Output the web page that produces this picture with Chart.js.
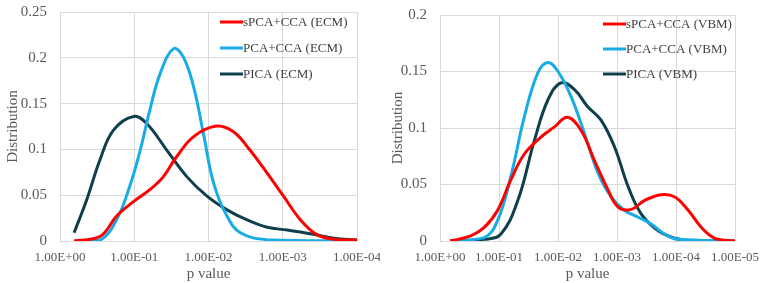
<!DOCTYPE html>
<html>
<head>
<meta charset="utf-8">
<script src="https://cdn.jsdelivr.net/npm/chart.js@4.4.0/dist/chart.umd.min.js"></script>
<style>
  body { margin: 0; background: #fff; }
  .panel { position: absolute; top: 0; width: 380px; height: 283px; }
</style>
</head>
<body>
<div class="panel" style="left:0"><canvas id="chartECM"></canvas></div>
<div class="panel" style="left:385px"><canvas id="chartVBM"></canvas></div>
<script>
// x values are -log10(p), so 1 means p = 1.00E-01
const ecmX_sPCA = [0.19, 0.54, 0.76, 0.99, 1.21, 1.39, 1.57, 1.80, 2.11, 2.34, 2.56, 2.79, 3.01, 3.24, 3.46, 3.69, 4.0];
const ecmY_sPCA = [0, 0.005, 0.027, 0.043, 0.056, 0.07, 0.092, 0.114, 0.1255, 0.119, 0.099, 0.074, 0.049, 0.023, 0.007, 0.002, 0.001];
const ecmX_PCA = [0.19, 0.54, 0.76, 0.94, 1.08, 1.21, 1.35, 1.53, 1.66, 1.80, 1.93, 2.07, 2.25, 2.43, 2.79, 4.0];
const ecmY_PCA = [0, 0.001, 0.023, 0.06, 0.099, 0.143, 0.183, 0.21, 0.201, 0.168, 0.118, 0.063, 0.027, 0.009, 0.0015, 0];
const ecmX_PICA = [0.19, 0.36, 0.54, 0.72, 0.99, 1.17, 1.44, 1.71, 1.98, 2.25, 2.52, 2.79, 3.06, 3.37, 3.69, 4.0];
const ecmY_PICA = [0.009, 0.045, 0.089, 0.121, 0.136, 0.128, 0.099, 0.07, 0.049, 0.034, 0.023, 0.015, 0.012, 0.008, 0.003, 0.001];

const vbmX_sPCA = [0.17, 0.52, 0.75, 0.975, 1.20, 1.43, 1.71, 1.94, 2.16, 2.39, 2.62, 2.85, 3.02, 3.24, 3.47, 3.75, 3.98, 4.21, 4.43, 4.66, 5.0];
const vbmY_sPCA = [0, 0.0045, 0.012, 0.027, 0.054, 0.077, 0.092, 0.101, 0.1095, 0.098, 0.071, 0.045, 0.030, 0.028, 0.036, 0.041, 0.039, 0.027, 0.012, 0.0024, 0];
const vbmX_PCA = [0.17, 0.75, 0.975, 1.20, 1.43, 1.66, 1.83, 2.00, 2.22, 2.45, 2.68, 2.90, 3.13, 3.36, 3.58, 3.81, 4.04, 5.0];
const vbmY_PCA = [0, 0.003, 0.018, 0.057, 0.110, 0.149, 0.158, 0.150, 0.128, 0.095, 0.060, 0.039, 0.027, 0.021, 0.015, 0.006, 0.0015, 0];
const vbmX_PICA = [0.17, 0.75, 1.03, 1.32, 1.60, 1.83, 2.05, 2.28, 2.50, 2.73, 2.96, 3.19, 3.41, 3.70, 3.98, 4.26, 5.0];
const vbmY_PICA = [0, 0.0015, 0.006, 0.036, 0.089, 0.125, 0.140, 0.134, 0.119, 0.107, 0.083, 0.048, 0.024, 0.009, 0.0024, 0, 0];

const ecmTicks = ['1.00E+00', '1.00E-01', '1.00E-02', '1.00E-03', '1.00E-04'];
const vbmTicks = ['1.00E+00', '1.00E-01', '1.00E-02', '1.00E-03', '1.00E-04', '1.00E-05'];

const RED = '#ff0000', BLUE = '#17ace6', DARK = '#0f3f4d';
const FONT = "'Liberation Serif', 'Times New Roman', serif";
const TEXT = '#595959';

function pts(xs, ys) {
  return xs.map((x, i) => ({ x: x, y: ys[i] }));
}

// legend drawn inside the plot like Excel does
const innerLegend = {
  id: 'innerLegend',
  afterDraw(chart, args, opts) {
    const ctx = chart.ctx;
    ctx.save();
    ctx.font = '13px ' + FONT;
    ctx.textBaseline = 'middle';
    chart.data.datasets.forEach((ds, i) => {
      const y = opts.y0 + i * opts.dy;
      ctx.strokeStyle = ds.borderColor;
      ctx.lineWidth = 3;
      ctx.beginPath();
      ctx.moveTo(opts.x, y);
      ctx.lineTo(opts.x + 23, y);
      ctx.stroke();
      ctx.fillStyle = '#404040';
      ctx.fillText(ds.label, opts.x + 23, y + 1);
    });
    ctx.restore();
  }
};

function makeChart(id, sets, ticks, yMax, yLeft, padRight, padTop, legendPos) {
  new Chart(document.getElementById(id), {
    type: 'line',
    data: {
      datasets: sets.map(s => ({
        label: s[0],
        data: s[1],
        borderColor: s[2],
        borderWidth: 3,
        pointRadius: 0,
        tension: 0.4,
        fill: false
      }))
    },
    options: {
      responsive: true,
      maintainAspectRatio: false,
      animation: false,
      layout: { padding: { top: padTop, right: padRight, left: 0, bottom: 0 } },
      plugins: {
        legend: { display: false },
        tooltip: { enabled: false },
        innerLegend: legendPos
      },
      scales: {
        x: {
          type: 'linear',
          min: 0,
          max: ticks.length - 1,
          afterBuildTicks: sc => { sc.ticks = ticks.map((t, i) => ({ value: i })); },
          afterFit: sc => { sc.height = 42; sc.paddingLeft = 0; sc.paddingRight = 0; },
          ticks: {
            callback: v => ticks[v],
            color: TEXT,
            font: { family: FONT, size: 13 },
            padding: 9,
            maxRotation: 0
          },
          grid: { color: '#d9d9d9', drawTicks: false },
          border: { color: '#d9d9d9' },
          title: {
            display: true,
            text: 'p value',
            color: TEXT,
            font: { family: FONT, size: 15 },
            padding: 0
          }
        },
        y: {
          min: 0,
          max: yMax,
          afterFit: sc => { sc.width = yLeft; sc.paddingTop = 0; sc.paddingBottom = 0; },
          ticks: {
            stepSize: 0.05,
            color: TEXT,
            font: { family: FONT, size: 15 },
            padding: 13,
            callback: v => String(Math.round(v * 100) / 100)
          },
          grid: { color: '#d9d9d9', drawTicks: false },
          border: { display: false },
          title: {
            display: true,
            text: 'Distribution',
            color: TEXT,
            font: { family: FONT, size: 15 },
            padding: { top: 4, bottom: 0 }
          }
        }
      }
    },
    plugins: [innerLegend]
  });
}

makeChart('chartECM', [
  ['sPCA+CCA (ECM)', pts(ecmX_sPCA, ecmY_sPCA), RED],
  ['PCA+CCA (ECM)', pts(ecmX_PCA, ecmY_PCA), BLUE],
  ['PICA (ECM)', pts(ecmX_PICA, ecmY_PICA), DARK]
], ecmTicks, 0.25, 60, 23, 12, { x: 220, y0: 22, dy: 26 });

makeChart('chartVBM', [
  ['sPCA+CCA (VBM)', pts(vbmX_sPCA, vbmY_sPCA), RED],
  ['PCA+CCA (VBM)', pts(vbmX_PCA, vbmY_PCA), BLUE],
  ['PICA (VBM)', pts(vbmX_PICA, vbmY_PICA), DARK]
], vbmTicks, 0.2, 55, 30, 15, { x: 218, y0: 24, dy: 25 });
</script>
</body>
</html>
